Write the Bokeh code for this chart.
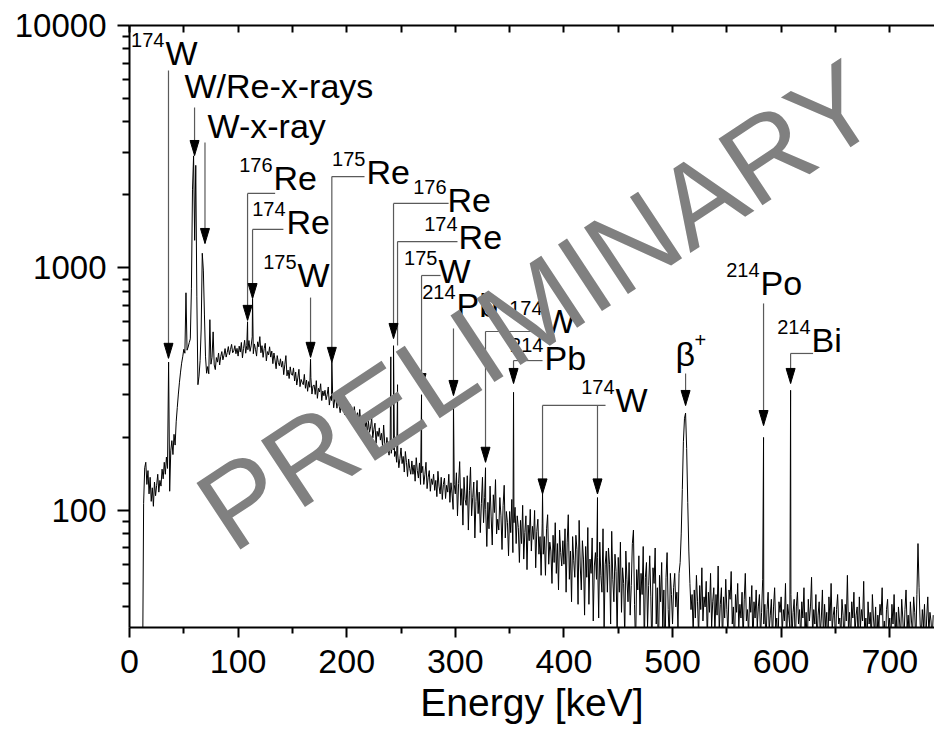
import math
import numpy as np
from bokeh.plotting import figure
from bokeh.models import ColumnDataSource, FixedTicker, LinearAxis, Label, Range1d
from bokeh.embed import file_html
from bokeh.resources import INLINE

# ---------------- data ----------------
# 12..99 keV, 1 keV channels
energy_low = list(range(12, 100))
counts_low = [20, 107, 150, 158, 128, 146, 117, 137, 109, 124,
              104, 131, 115, 127, 141, 119, 133, 126, 148, 135,
              158, 141, 166, 149, 409, 120, 176, 194, 170, 206,
              186, 232, 266, 302, 338, 372, 405, 430, 462, 445,
              790, 458, 472, 492, 510, 820, 2100, 2900, 1300, 2650,
              760, 330, 358, 415, 560, 1150, 980, 640, 430, 368,
              392, 366, 612, 401, 428, 545, 398, 381, 427, 409,
              446, 398, 431, 452, 418, 437, 465, 429, 448, 474,
              439, 461, 484, 447, 455, 478, 443, 466]

# 100..299 keV, 1 keV channels
energy_100_299 = list(range(100, 300))
counts_100_299 = [433, 476, 450, 493, 426, 466, 503, 445, 479, 460,
                  502, 453, 477, 520, 443, 486, 462, 433, 496, 473,
                  521, 447, 478, 428, 465, 489, 414, 452, 438, 473,
                  429, 454, 403, 446, 417, 384, 435, 408, 395, 422,
                  390, 412, 363, 399, 435, 359, 379, 350, 391, 364,
                  361, 387, 342, 372, 329, 352, 382, 324, 347, 337,
                  330, 364, 319, 345, 310, 340, 322, 353, 302, 327,
                  329, 301, 343, 290, 319, 308, 333, 284, 311, 297,
                  313, 286, 300, 323, 272, 295, 284, 305, 265, 289,
                  290, 264, 300, 272, 253, 282, 268, 292, 248, 261,
                  282, 247, 262, 274, 238, 257, 230, 268, 244, 226,
                  253, 231, 261, 224, 242, 213, 248, 221, 235, 208,
                  234, 210, 221, 241, 199, 216, 229, 189, 212, 202,
                  219, 195, 208, 184, 225, 189, 176, 200, 181, 169,
                  194, 172, 186, 178, 167, 175, 158, 171, 150, 164,
                  181, 156, 167, 144, 175, 158, 138, 163, 149, 141,
                  160, 141, 154, 132, 165, 146, 136, 157, 128, 143,
                  152, 128, 141, 158, 123, 137, 146, 120, 135, 128,
                  141, 121, 133, 114, 145, 126, 117, 137, 111, 128,
                  136, 112, 127, 119, 141, 108, 130, 117, 101, 128]

# 300..499 keV, 1 keV channels
energy_300_499 = list(range(300, 500))
counts_300_499 = [117, 143, 95, 129, 159, 105, 123, 87, 137, 111,
                  105, 139, 83, 121, 151, 95, 113, 131, 77, 109,
                  133, 97, 119, 81, 107, 137, 89, 113, 101, 71,
                  108, 84, 126, 94, 72, 116, 98, 134, 80, 92,
                  83, 113, 95, 69, 105, 127, 77, 99, 89, 65,
                  99, 81, 111, 67, 89, 103, 73, 95, 85, 61,
                  91, 73, 105, 63, 81, 95, 57, 87, 75, 101,
                  68, 86, 76, 100, 58, 82, 92, 66, 78, 54,
                  88, 66, 78, 54, 84, 96, 60, 74, 68, 50,
                  79, 61, 89, 55, 73, 47, 83, 67, 59, 75,
                  60, 84, 46, 74, 96, 52, 68, 42, 78, 62,
                  53, 79, 69, 41, 91, 59, 47, 75, 63, 37,
                  71, 53, 85, 41, 63, 55, 77, 35, 59, 67,
                  52, 64, 36, 74, 54, 46, 84, 32, 60, 68,
                  46, 70, 60, 34, 82, 52, 42, 66, 56, 30,
                  64, 46, 74, 38, 58, 50, 30, 68, 52, 42,
                  61, 37, 49, 73, 83, 41, 27, 57, 47, 65,
                  37, 55, 45, 71, 27, 53, 61, 33, 49, 65,
                  44, 26, 58, 50, 70, 34, 48, 24, 54, 42,
                  61, 33, 47, 22, 53, 67, 39, 29, 55, 45]

# 500..740 keV, 1 keV channels
energy_500_740 = list(range(500, 741))
counts_500_740 = [34, 48, 55, 40, 46, 33, 55, 61, 80, 122,
                  192, 240, 252, 180, 108, 68, 50, 39, 45, 31,
                  47, 36, 54, 42, 30, 49, 39, 58, 35, 44,
                  40, 51, 29, 46, 38, 55, 33, 42, 48, 31,
                  45, 37, 59, 32, 41, 48, 28, 44, 36, 52,
                  39, 31, 47, 43, 56, 34, 40, 27, 45, 38,
                  50, 33, 41, 36, 46, 29, 43, 55, 35, 39,
                  31, 44, 38, 49, 27, 42, 36, 47, 33, 40,
                  45, 30, 38, 52, 34, 41, 28, 39, 46, 32,
                  37, 43, 29, 40, 48, 33, 36, 26, 42, 38,
                  44, 31, 39, 35, 50, 28, 41, 37, 33, 45,
                  30, 38, 43, 27, 40, 46, 34, 39, 29, 42,
                  36, 48, 31, 38, 26, 43, 35, 40, 53, 30,
                  39, 34, 45, 28, 37, 42, 31, 36, 47, 29,
                  41, 33, 38, 26, 44, 35, 50, 32, 37, 40,
                  28, 39, 45, 34, 36, 30, 43, 37, 27, 41,
                  35, 54, 32, 38, 29, 42, 36, 46, 31, 37,
                  40, 28, 44, 33, 39, 35, 51, 30, 36, 27,
                  42, 34, 38, 29, 45, 36, 31, 40, 26, 37,
                  33, 41, 37, 48, 30, 35, 27, 39, 43, 32,
                  36, 29, 41, 34, 45, 31, 38, 26, 40, 35,
                  30, 43, 36, 28, 39, 47, 33, 37, 29, 42,
                  35, 31, 44, 38, 28, 45, 73, 48, 34, 30,
                  39, 33, 41, 27, 36, 44, 31, 38, 35, 29,
                  37]

# narrow gamma lines between channels
peak_energy = [108.7, 113.3, 166.7, 186.3, 240.6, 243.1, 246.8, 268.9,
               298.3, 327.8, 353.6, 380.3, 430.9, 583.8, 608.7]
peak_counts = [600, 745, 420, 410, 430, 478, 330, 300,
               280, 150, 307, 117, 113, 200, 313]

x_ticks = [0, 100, 200, 300, 400, 500, 600, 700]
x_tick_labels = ["0", "100", "200", "300", "400", "500", "600", "700"]
y_ticks = [100, 1000, 10000]
y_tick_labels = ["100", "1000", "10000"]

# line annotations: element text and mass-number superscript
ann_text = ["W", "W/Re-x-rays", "W-x-ray", "Re", "Re", "W", "Re", "Re", "Re",
            "W", "Pb", "W", "Pb", "W", "\u03b2", "Po", "Bi"]
ann_sup = ["174", "", "", "176", "174", "175", "175", "176", "174",
           "175", "214", "174", "214", "174", "+", "214", "214"]

# ---------------- layout / styling ----------------
W, H = 934, 750
BL, BR, BT, BB = 129, 0, 25, 123
X_START, X_END = 0.0, 741.2
Y_START, Y_END = 32.9, 10000.0
FRAME_W = W - BL - BR
FRAME_H = H - BT - BB
FONT = "Liberation Sans"
TXT_RAISE = 12      # px, element text
SUP_RAISE = 25      # px, superscript

# label anchors (keV, counts at text baseline)
ann_x = [33.1, 50.6, 71.8, 132.6, 144.6, 154.7, 218.2, 292.8, 303.0,
         284.5, 301.1, 381.2, 382.1, 447.5, 502.8, 581.0, 628.0]
ann_y = [6840, 5000, 3420, 2090, 1387, 831, 2228, 1694, 1203,
         871, 625, 537, 378, 254, 393, 771, 449]

# arrows: x (keV), top (counts), tip (counts), head?, leader end x (keV)
arr_x = [35.9, 59.9, 69.5, 108.7, 113.3, 166.7, 186.3, 243.1, 246.8,
         268.9, 298.3, 327.8, 353.6, 380.3, 430.9, 512.0, 583.8, 608.7]
arr_top = [6520, 4590, 3295, 2030, 1442, 755, 2383, 1845, 1285,
           931, 563, 547, 415, 271, 271, 367, 714, 444]
arr_tip = [424, 2910, 1262, 608, 748, 428, 408, 512, 479,
           318, 298, 158, 334, 117, 117, 271, 224, 334]
arr_head = [1, 1, 1, 1, 1, 1, 1, 1, 0, 1, 1, 1, 1, 1, 1, 1, 1, 1]
arr_lead = [None, None, None, 134.1, 141.7, None, 216.4, 293.8, 302.0,
            286.4, None, 378.5, 380.3, 438.3, None, None, None, 629.4]

# ---------------- spectrum ----------------
e_all = np.concatenate([energy_low, energy_100_299, energy_300_499,
                        energy_500_740, peak_energy]).astype(float)
c_all = np.concatenate([counts_low, counts_100_299, counts_300_499,
                        counts_500_740, peak_counts]).astype(float)
order = np.argsort(e_all, kind="stable")
spec = ColumnDataSource(data=dict(energy=e_all[order], counts=c_all[order]))

p = figure(width=W, height=H, x_range=Range1d(X_START, X_END),
           y_range=Range1d(Y_START, Y_END), y_axis_type="log",
           output_backend="svg", toolbar_location=None,
           min_border_left=BL, min_border_right=BR,
           min_border_top=BT, min_border_bottom=BB)
p.outline_line_color = None
p.grid.visible = False
p.background_fill_color = "white"
p.border_fill_color = "white"

p.line("energy", "counts", source=spec, line_color="black", line_width=1)

# x axis
xa = p.xaxis[0]
xa.ticker = FixedTicker(ticks=x_ticks, minor_ticks=[t + 50 for t in x_ticks])
xa.major_label_overrides = {t: s for t, s in zip(x_ticks, x_tick_labels)}
xa.major_label_text_font = FONT
xa.major_label_text_font_size = "34px"
xa.major_label_text_color = "black"
xa.major_label_standoff = 12
xa.major_tick_out = 10
xa.major_tick_in = 0
xa.minor_tick_out = 6
xa.minor_tick_in = 0
xa.axis_line_width = 2
xa.major_tick_line_width = 2
xa.minor_tick_line_width = 2
xa.axis_label = "Energy [keV]"
xa.axis_label_text_font = FONT
xa.axis_label_text_font_style = "normal"
xa.axis_label_text_font_size = "39px"
xa.axis_label_text_color = "black"
xa.axis_label_standoff = 5

# y axis
ya = p.yaxis[0]
y_minor = [m * d for d in (10, 100, 1000) for m in range(2, 10) if Y_START < m * d < Y_END]
ya.ticker = FixedTicker(ticks=y_ticks, minor_ticks=y_minor)
ya.major_label_overrides = {t: s for t, s in zip(y_ticks, y_tick_labels)}
ya.major_label_text_font = FONT
ya.major_label_text_font_size = "33px"
ya.major_label_text_color = "black"
ya.major_label_standoff = 11
ya.major_tick_out = 12
ya.major_tick_in = 0
ya.minor_tick_out = 7
ya.minor_tick_in = 0
ya.axis_line_width = 2
ya.major_tick_line_width = 2
ya.minor_tick_line_width = 2

# top frame line with inward ticks
top_ticks = list(range(0, 750, 50))
ta = LinearAxis(ticker=FixedTicker(ticks=top_ticks, minor_ticks=[]),
                major_label_overrides={t: "" for t in top_ticks},
                major_label_text_font_size="1px",
                major_tick_in=7, major_tick_out=0,
                axis_line_width=2, major_tick_line_width=2)
p.add_layout(ta, "above")

# ---------------- arrows ----------------
px_per_kev = FRAME_W / (X_END - X_START)
px_per_dec = FRAME_H / math.log10(Y_END / Y_START)
hw = 4.5 / px_per_kev
hf = 10 ** (15.0 / px_per_dec)

vsrc = ColumnDataSource(data=dict(x0=arr_x, y0=arr_top, x1=arr_x, y1=arr_tip))
p.segment("x0", "y0", "x1", "y1", source=vsrc, line_color="#5a5a5a", line_width=1.2)

lx0, lx1, ly = [], [], []
for x, t, l in zip(arr_x, arr_top, arr_lead):
    if l is not None:
        lx0.append(x); lx1.append(l); ly.append(t)
lsrc = ColumnDataSource(data=dict(x0=lx0, x1=lx1, y=ly))
p.segment("x0", "y", "x1", "y", source=lsrc, line_color="#5a5a5a", line_width=1.2)

hxs, hys = [], []
for x, tip, h in zip(arr_x, arr_tip, arr_head):
    if h:
        hxs.append([x - hw, x + hw, x])
        hys.append([tip * hf, tip * hf, tip])
p.patches(hxs, hys, fill_color="black", line_color="black", line_width=1)

# ---------------- labels ----------------
for txt, sup, x, y in zip(ann_text, ann_sup, ann_x, ann_y):
    p.add_layout(Label(x=x, y=y, text=txt, text_font=FONT, text_font_size="34px",
                       text_color="black", text_align="left", text_baseline="alphabetic",
                       y_offset=TXT_RAISE))
    if sup == "+":
        p.add_layout(Label(x=x, y=y, text=sup, text_font=FONT, text_font_size="20px",
                           text_color="black", text_align="left", text_baseline="alphabetic",
                           x_offset=19, y_offset=SUP_RAISE + 1))
    elif sup:
        p.add_layout(Label(x=x, y=y, text=sup, text_font=FONT, text_font_size="20px",
                           text_color="black", text_align="right", text_baseline="alphabetic",
                           x_offset=-1, y_offset=SUP_RAISE))

# watermark on top
p.add_layout(Label(x=376, y=700, text="PRELIMINARY", text_font=FONT,
                   text_font_size="116px", text_color="#808080",
                   text_align="center", text_baseline="middle", angle=0.583))

open("out.html", "w").write(file_html(p, INLINE))
